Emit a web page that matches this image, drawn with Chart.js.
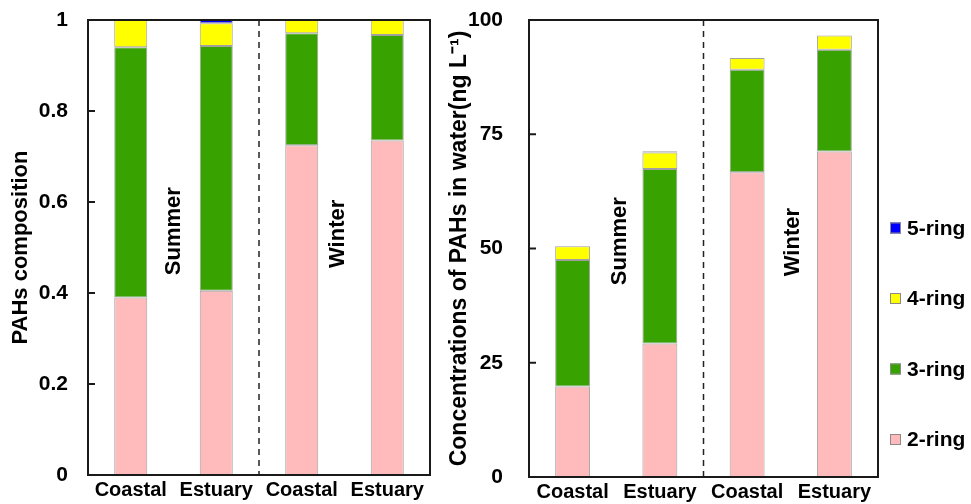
<!DOCTYPE html>
<html>
<head>
<meta charset="utf-8">
<script src="https://cdn.jsdelivr.net/npm/chart.js@4/dist/chart.umd.min.js"></script>
<style>
  html, body { margin: 0; padding: 0; background: #fff; }
  #wrap { position: relative; width: 971px; height: 504px; overflow: hidden; }
  #left { position: absolute; left: 0; top: 0; }
  #right { position: absolute; left: 440px; top: 0; }
</style>
</head>
<body>
<div id="wrap">
  <canvas id="left" width="440" height="504"></canvas>
  <canvas id="right" width="531" height="504"></canvas>
</div>
<script>
// Sampling sites (two seasons, two sites each)
const sites = ['Coastal', 'Estuary', 'Coastal', 'Estuary'];
const seasons = ['Summer', 'Winter'];
const ringClasses = ['2-ring', '3-ring', '4-ring', '5-ring'];

// Relative composition of PAHs by ring number
const share2 = [0.39, 0.405, 0.725, 0.735];
const share3 = [0.55, 0.538, 0.246, 0.232];
const share4 = [0.06, 0.05, 0.029, 0.033];
const share5 = [null, 0.007, null, null];

// Concentrations in water (ng L-1) by ring number
const conc2 = [19.8, 29.2, 66.7, 71.2];
const conc3 = [27.7, 38.2, 22.4, 22.3];
const conc4 = [3.0, 3.6, 2.6, 3.1];
const conc5 = [null, 0.3, null, null];

// Axis ticks
const shareTicks = [0, 0.2, 0.4, 0.6, 0.8, 1];
const concTicks = [0, 25, 50, 75, 100];

const FONT = '"Liberation Sans", Arial, Helvetica, sans-serif';
const ringColors = ['#FFBBBB', '#38A300', '#FFFF00', '#0000FF'];
const edgeColor = '#A0A0A0';

Chart.defaults.font.family = FONT;
Chart.defaults.color = '#000';

function makeDatasets(series, pct) {
  return series.map((data, i) => ({
    label: ringClasses[i],
    data: data,
    backgroundColor: ringColors[i],
    borderColor: edgeColor,
    borderWidth: 1,
    borderSkipped: false,
    barPercentage: pct,
    categoryPercentage: 1.0,
    stack: 'rings'
  }));
}

// Frame, inward ticks, season separator and season labels
function framePlugin(seasonAt) {
  return {
    id: 'frame',
    afterDatasetsDraw(chart) {
      const { ctx, chartArea: a, scales: { x, y } } = chart;
      ctx.save();
      const xm = (x.getPixelForValue(1) + x.getPixelForValue(2)) / 2;
      ctx.setLineDash([6, 5]);
      ctx.lineWidth = 1.5;
      ctx.strokeStyle = '#222';
      ctx.beginPath();
      ctx.moveTo(xm, a.top);
      ctx.lineTo(xm, a.bottom);
      ctx.stroke();
      ctx.setLineDash([]);

      ctx.lineWidth = 2;
      ctx.strokeStyle = '#1a1a1a';
      ctx.strokeRect(a.left, a.top, a.right - a.left, a.bottom - a.top);
      y.ticks.forEach(t => {
        const py = y.getPixelForValue(t.value);
        ctx.beginPath();
        ctx.moveTo(a.left, py);
        ctx.lineTo(a.left + 7, py);
        ctx.stroke();
      });

      ctx.font = 'bold 22px ' + FONT;
      ctx.fillStyle = '#000';
      ctx.textAlign = 'center';
      ctx.textBaseline = 'middle';
      seasonAt.forEach((pos, i) => {
        const px = x.getPixelForValue(pos[0]);
        const py = y.getPixelForValue(pos[1]);
        ctx.save();
        ctx.translate(px, py);
        ctx.rotate(-Math.PI / 2);
        ctx.fillText(seasons[i], 0, 0);
        ctx.restore();
      });
      ctx.restore();
    }
  };
}

// Ring-class key, drawn top-down from 5-ring to 2-ring
const ringKey = {
  id: 'ringKey',
  afterDraw(chart) {
    const ctx = chart.ctx;
    const items = chart.data.datasets.slice().reverse();
    ctx.save();
    ctx.font = 'bold 21px ' + FONT;
    ctx.textAlign = 'left';
    ctx.textBaseline = 'middle';
    items.forEach((ds, i) => {
      const cy = 228 + i * 70.5;
      ctx.fillStyle = ds.backgroundColor;
      ctx.fillRect(450, cy - 5.5, 11, 11);
      ctx.lineWidth = 1;
      ctx.strokeStyle = '#8a8a8a';
      ctx.strokeRect(450.5, cy - 5, 10, 10);
      ctx.fillStyle = '#000';
      ctx.fillText(ds.label, 467, cy + 1);
    });
    ctx.restore();
  }
};

function baseOptions(cfg) {
  return {
    responsive: false,
    animation: false,
    devicePixelRatio: 1,
    layout: { padding: cfg.padding },
    plugins: { legend: { display: false }, tooltip: { enabled: false } },
    scales: {
      x: {
        stacked: true,
        grid: { display: false, drawTicks: false },
        border: { display: false },
        ticks: { font: { size: 20, weight: 'bold' }, color: '#000', padding: 3, maxRotation: 0 },
        afterFit(s) {
          s.height = cfg.xHeight;
          s.paddingLeft = 0; s.paddingRight = 0;
        }
      },
      y: {
        stacked: true,
        min: cfg.ticks[0],
        max: cfg.ticks[cfg.ticks.length - 1],
        afterBuildTicks(s) { s.ticks = cfg.ticks.map(v => ({ value: v })); },
        grid: { display: false, drawTicks: false },
        border: { display: false },
        ticks: {
          font: { size: 21, weight: 'bold' },
          color: '#000',
          padding: cfg.tickPad,
          callback: v => String(v)
        },
        title: {
          display: true,
          text: cfg.title,
          font: { size: cfg.titleSize, weight: 'bold' },
          color: '#000',
          padding: { top: cfg.titlePad, bottom: 0 }
        },
        afterFit(s) {
          s.width = cfg.yWidth;
          s.paddingTop = 0; s.paddingBottom = 0;
        }
      }
    }
  };
}

new Chart(document.getElementById('left'), {
  type: 'bar',
  data: { labels: sites, datasets: makeDatasets([share2, share3, share4, share5], 0.386) },
  options: baseOptions({
    padding: { left: 0, right: 10, top: 20, bottom: 0 },
    xHeight: 29, yWidth: 88, tickPad: 20,
    ticks: shareTicks,
    title: 'PAHs composition', titleSize: 22, titlePad: 8
  }),
  plugins: [framePlugin([[0.51, 0.536], [2.42, 0.53]])]
});

new Chart(document.getElementById('right'), {
  type: 'bar',
  data: { labels: sites, datasets: makeDatasets([conc2, conc3, conc4, conc5], 0.40) },
  options: baseOptions({
    padding: { left: 0, right: 93, top: 20, bottom: 0 },
    xHeight: 27, yWidth: 89, tickPad: 26,
    ticks: concTicks,
    title: 'Concentrations of PAHs in water(ng L\u207B\u00B9)', titleSize: 23, titlePad: 6
  }),
  plugins: [framePlugin([[0.54, 51.6], [2.53, 51.4]]), ringKey]
});
</script>
</body>
</html>
